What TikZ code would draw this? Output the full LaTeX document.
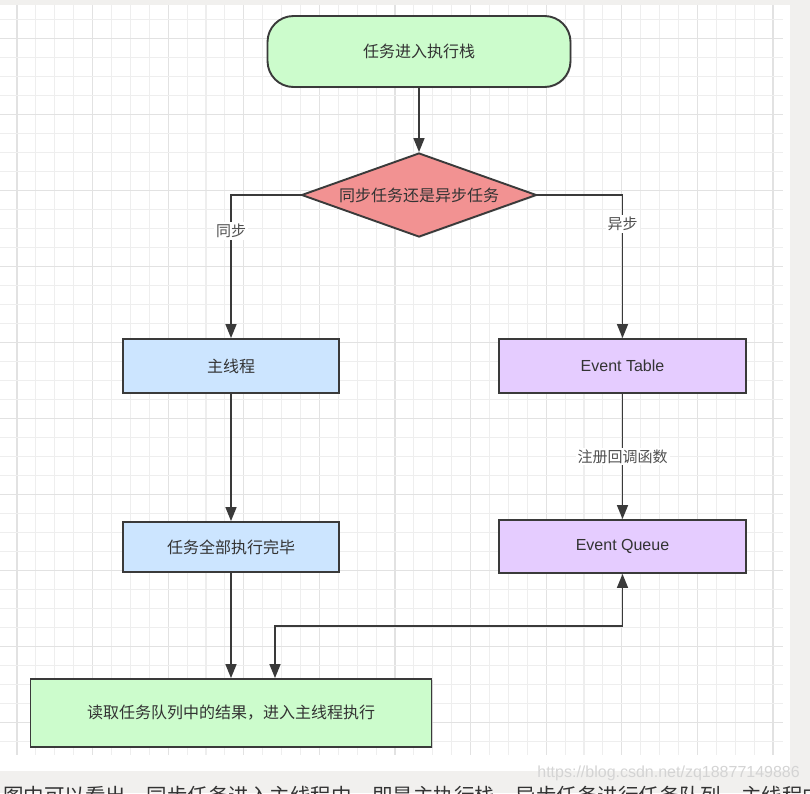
\documentclass[tikz,border=0pt]{standalone}
\usepackage{fontspec}
\setmainfont{Liberation Sans}
\newfontfamily\cjk{Noto Sans CJK SC}
\usetikzlibrary{shapes.geometric,arrows.meta,shadows}
\definecolor{bggray}{HTML}{F1F0EE}
\definecolor{gminor}{HTML}{EEEEEE}
\definecolor{gmajor}{HTML}{E2E2E2}
\definecolor{edgec}{HTML}{3A3A3A}
\definecolor{txtc}{HTML}{333333}
\definecolor{lblc}{HTML}{505050}
\definecolor{greenfill}{HTML}{CCFCCC}
\definecolor{redfill}{HTML}{F29292}
\definecolor{bluefill}{HTML}{CCE5FF}
\definecolor{purplefill}{HTML}{E5CCFF}
\definecolor{wmark}{HTML}{D4D4D4}
\begin{document}
\begin{tikzpicture}[x=1pt,y=-1pt,
  box/.style={draw=edgec, line width=1.9pt, text=txtc, inner sep=0pt,
    font=\cjk\fontsize{16}{19}\selectfont,
    drop shadow={opacity=0.25, shadow xshift=1pt, shadow yshift=-1pt}},
  engbox/.style={box, font=\fontsize{16}{19}\selectfont},
  conn/.style={draw=edgec, line width=1.6pt, -{Triangle[length=14pt,width=11pt]}},
  lbl/.style={fill=white, text=lblc, inner sep=2pt, font=\cjk\fontsize{15}{18}\selectfont}]
% background and grid
\fill[bggray] (0,0) rectangle (810,793);
\fill[white] (0,5) rectangle (790,771);
\useasboundingbox (0,0) rectangle (810,793);
\foreach \k in {0,...,40}{
  \pgfmathtruncatemacro{\m}{mod(\k,4)}
  \ifnum\m=0
    \draw[gmajor, line width=1.2pt] ({17+18.9*\k},5) -- ({17+18.9*\k},755);
  \else
    \draw[gminor, line width=1.1pt] ({17+18.9*\k},5) -- ({17+18.9*\k},755);
  \fi}
\foreach \k in {0,...,38}{
  \pgfmathtruncatemacro{\m}{mod(\k,4)}
  \ifnum\m=1
    \draw[gmajor, line width=1.2pt] (0,{19.5+19*\k}) -- (783,{19.5+19*\k});
  \else
    \draw[gminor, line width=1.1pt] (0,{19.5+19*\k}) -- (783,{19.5+19*\k});
  \fi}
% nodes
\node[box, fill=greenfill, rounded corners=26pt, minimum width=303pt, minimum height=71pt] (start) at (419,51.5) {任务进入执行栈};
\node[box, fill=redfill, diamond, aspect=2.8, minimum width=235pt, minimum height=84pt] (dec) at (419,195) {同步任务还是异步任务};
\node[box, fill=bluefill, minimum width=216pt, minimum height=54pt] (main) at (231,366) {主线程};
\node[box, fill=bluefill, minimum width=216pt, minimum height=50pt] (done) at (231,547) {任务全部执行完毕};
\node[engbox, fill=purplefill, minimum width=247pt, minimum height=54pt] (table) at (622.5,366) {Event Table};
\node[engbox, fill=purplefill, minimum width=247pt, minimum height=53pt] (queue) at (622.5,546.5) {Event Queue};
\node[box, fill=greenfill, minimum width=401pt, minimum height=68pt] (final) at (231,713) {读取任务队列中的结果，进入主线程执行};
% connectors
\draw[conn] (start) -- (dec);
\draw[conn] (dec.west) -| node[lbl, pos=0.625] (l1) {同步} (main.north);
\draw[conn] (dec.east) -| node[lbl, pos=0.6] (l2) {异步} (table.north);
\draw[conn] (main) -- (done);
\draw[conn] (table) -- node[lbl, pos=0.5] (l3) {注册回调函数} (queue);
\draw[conn] (done) -- (final);
\coordinate (fin2) at ([xshift=44pt]final.north);
\draw[conn, {Triangle[length=14pt,width=11pt]}-{Triangle[length=14pt,width=11pt]}] (fin2) -- ++(0,-52) -| (queue.south);
% page text outside the diagram
\node[anchor=east, inner sep=0pt, text=wmark, font=\fontsize{16}{18}\selectfont] (wm) at (800,773) {https://blog.csdn.net/zq18877149886};
\node[anchor=base west, inner sep=0pt, text=txtc, font=\cjk\fontsize{20.5}{24}\selectfont] (cap) at (3,803) {图中可以看出，同步任务进入主线程中，即是主执行栈，异步任务进行任务队列，主线程中};
\end{tikzpicture}
\end{document}
